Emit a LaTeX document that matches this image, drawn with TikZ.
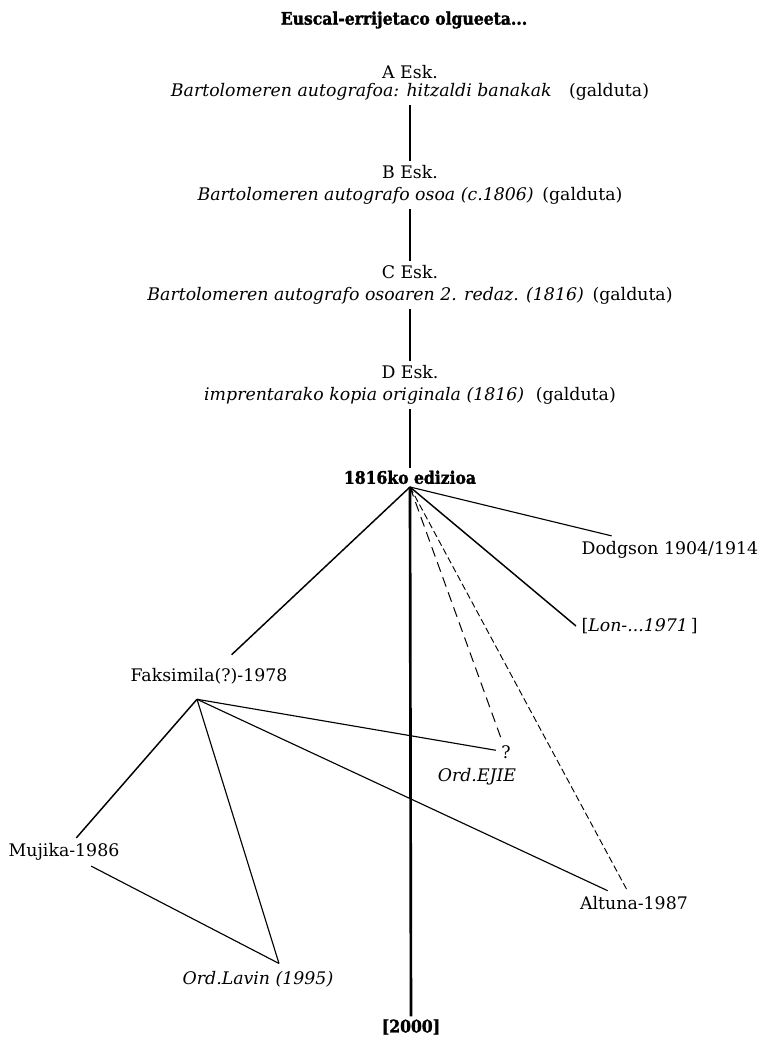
\documentclass[tikz,border=0pt]{standalone}
\usepackage{fontspec}
\setmainfont{DejaVu Serif}
\newfontfamily\headfont{DejaVu Serif Condensed}[BoldFeatures={FakeBold=1.6}]
\usepackage{tikz}
\usetikzlibrary{positioning,calc}

\tikzset{
  esk/.style={align=center,inner sep=3pt},
  wit/.style={inner sep=4pt},
  stem/.style={line width=1.5pt},
  trunk/.style={line width=2pt},
  branch/.style={line width=1.1pt},
  twig/.style={line width=0.85pt},
  maybe/.style={line width=0.75pt,dash pattern=on 7.5pt off 4.5pt},
  maybe2/.style={line width=0.7pt,dash pattern=on 5pt off 2.5pt}
}

\begin{document}
\begin{tikzpicture}[x=0.75pt,y=-0.75pt,
  every node/.style={font=\fontsize{13}{17}\selectfont}]
      \useasboundingbox (0,0) rectangle (766,1041);

      \node(title) at (404,20){\headfont\bfseries Euscal-errijetaco olgueeta...};
      \node(a)[esk] at (410,83){A Esk.\\[-3pt]\textit{Bartolomeren autografoa: hitzaldi banakak}\quad(galduta)};
      \node(b)[esk] at (410,185){B Esk.\\\textit{Bartolomeren autografo osoa (c.1806)}\enspace(galduta)};
      \node(c)[esk] at (410,285){C Esk.\\\textit{Bartolomeren autografo osoaren 2. redaz. (1816)}\enspace(galduta)};
      \node(d)[esk] at (410,385){D Esk.\\\textit{imprentarako kopia originala (1816)}\enspace\,(galduta)};
      \node(ed)[anchor=south,inner sep=2pt] at (410,487){\headfont\bfseries 1816ko edizioa};

      \node(dod)[wit,anchor=west] at (576,550){Dodgson 1904/1914};
      \node(lon)[wit,anchor=west] at (576,626){[\textit{Lon-...1971}\,]};
      \node(fak)[wit,outer sep=6pt] at (209,676){Faksimila(?)-1978};
      \node(q)[wit] at (506,752){?};
      \node(ejie)[inner sep=1pt] at (477,777){\textit{Ord.EJIE}};
      \node(mu)[wit] at (64,852){Mujika-1986};
      \node(alt)[wit] at (634,903){Altuna-1987};
      \node(lav)[wit] at (258,979){\textit{Ord.Lavin (1995)}};
      \node(y2000)[inner sep=2pt] at (411,1027){\headfont\bfseries [2000]};

      \coordinate(fakhub) at ([shift={(-12,2)}]fak.south);
      \coordinate(lavtop) at ([shift={(21,-2)}]lav.north);

      \draw[stem] (a) -- (b);
      \draw[stem] (b) -- (c);
      \draw[stem] (c) -- (d);
      \draw[stem] (d) -- (ed);

      \draw[trunk] (ed.south) -- (y2000);
      \draw[branch] (ed.south) -- (fak);
      \draw[twig] (ed.south) -- (dod);
      \draw[branch] (ed.south) -- (lon.west);
      \draw[maybe] (ed.south) -- (q);
      \draw[maybe2] (ed.south) -- (alt);

      \draw[branch] (fakhub) -- (mu);
      \draw[twig] (fakhub) -- (lavtop);
      \draw[twig] (fakhub) -- (q);
      \draw[twig] (fakhub) -- (alt);
      \draw[twig] (mu) -- (lavtop);

    \end{tikzpicture}
\end{document}
